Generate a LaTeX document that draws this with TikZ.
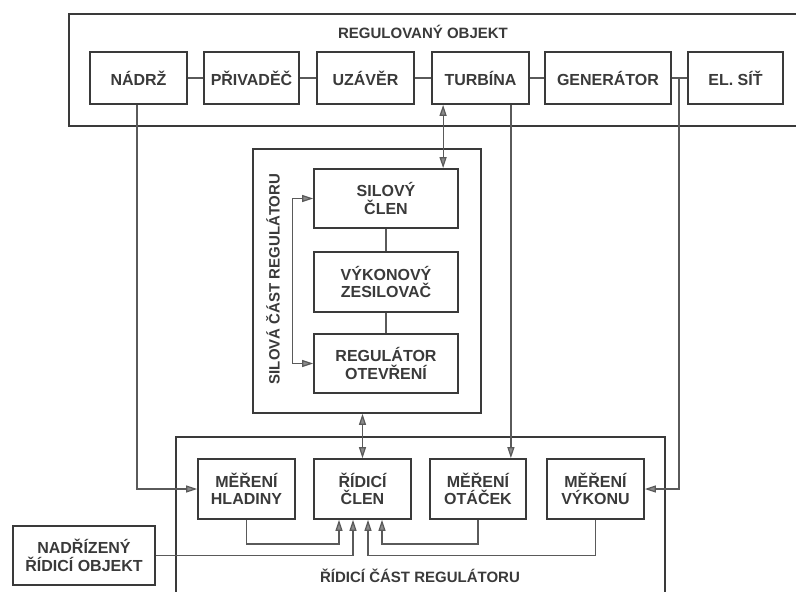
\documentclass[tikz,border=0pt]{standalone}
\usepackage{fontspec}
\setmainfont{Liberation Sans}
\usetikzlibrary{arrows.meta,calc}
\definecolor{ink}{HTML}{3A3A3A}
\definecolor{lin}{HTML}{5A5A5A}
\begin{document}
\begin{tikzpicture}[x=1pt,y=-1pt,
  every node/.style={text=ink, font=\fontsize{16}{17.5}\selectfont\bfseries, align=center, inner sep=0pt},
  outerbox/.style={draw=ink, line width=1.8pt},
  blk/.style={draw=ink, line width=1.8pt},
  con/.style={draw=lin, line width=1.2pt},
  tip/.style={},
  arr/.style={con, -{Triangle[length=11pt,width=7pt,fill=lin!70]}},
  darr/.style={con, {Triangle[length=11pt,width=7pt,fill=lin!70]}-{Triangle[length=11pt,width=7pt,fill=lin!70]}},
  lbl/.style={font=\fontsize{15}{17}\selectfont\bfseries}]
\useasboundingbox (0,0) rectangle (796,592);
\fill[white] (0,0) rectangle (796,592);

% outer frames
\node[outerbox, minimum width=741pt, minimum height=112pt] (regobj) at (439.5,70) {};
\node[outerbox, minimum width=228pt, minimum height=264pt] (silova) at (367,281) {};
\node[outerbox, minimum width=489pt, minimum height=173pt] (ridcast) at (420.5,523.5) {};

\node[lbl] (tRegObj) at (423,32) {REGULOVANÝ OBJEKT};
\node[lbl, rotate=90] (tSilova) at (273,279) {SILOVÁ ČÁST REGULÁTORU};
\node[lbl] (tRidcast) at (420,576) {ŘÍDICÍ ČÁST REGULÁTORU};

% top row
\node[blk, minimum width=97pt, minimum height=52pt] (nadrz) at (138.5,78) {NÁDRŽ};
\node[blk, minimum width=95pt, minimum height=52pt] (privadec) at (251.5,78) {PŘIVADĚČ};
\node[blk, minimum width=97pt, minimum height=52pt] (uzaver) at (365.5,78) {UZÁVĚR};
\node[blk, minimum width=97pt, minimum height=52pt] (turbina) at (480.5,78) {TURBÍNA};
\node[blk, minimum width=126pt, minimum height=52pt] (generator) at (608,78) {GENERÁTOR};
\node[blk, minimum width=95pt, minimum height=52pt] (elsit) at (735.5,78) {EL. SÍŤ};

% silova cast
\node[blk, minimum width=144pt, minimum height=59pt] (silovy) at (386,198.5) {SILOVÝ\\ČLEN};
\node[blk, minimum width=144pt, minimum height=60pt] (zesil) at (386,282) {VÝKONOVÝ\\ZESILOVAČ};
\node[blk, minimum width=144pt, minimum height=59pt] (regot) at (386,363.5) {REGULÁTOR\\OTEVŘENÍ};

% ridici cast
\node[blk, minimum width=97pt, minimum height=60pt] (hladiny) at (246.5,489) {MĚŘENÍ\\HLADINY};
\node[blk, minimum width=97pt, minimum height=60pt] (ridici) at (362.5,489) {ŘÍDICÍ\\ČLEN};
\node[blk, minimum width=96pt, minimum height=60pt] (otacek) at (478,489) {MĚŘENÍ\\OTÁČEK};
\node[blk, minimum width=97pt, minimum height=60pt] (vykonu) at (595.5,489) {MĚŘENÍ\\VÝKONU};
\node[blk, minimum width=142pt, minimum height=59pt] (nadrizeny) at (84,555.5) {NADŘÍZENÝ\\ŘÍDICÍ OBJEKT};

% top row chain
\draw[con] (nadrz.east) -- (privadec.west);
\draw[con] (privadec.east) -- (uzaver.west);
\draw[con] (uzaver.east) -- (turbina.west);
\draw[con] (turbina.east) -- (generator.west);
\draw[con] (generator.east) -- (elsit.west);
\coordinate (jgen) at ($(generator.east)!0.47!(elsit.west)$);

% silova chain
\draw[con] (silovy.south) -- (zesil.north);
\draw[con] (zesil.south) -- (regot.north);
\draw[darr] (silovy.west) -- ++(-21,0) |- (regot.west);

% vertical links
\draw[arr] ([xshift=-1.5pt]nadrz.south) |- (hladiny.west);
\draw[darr] ([xshift=12pt]turbina.south west) -- ([xshift=12pt]turbina.south west |- silovy.north);
\draw[arr] ([xshift=-19pt]turbina.south east) -- ([xshift=-19pt]turbina.south east |- otacek.north);
\draw[arr] (jgen) |- (vykonu.east);
\draw[darr] (silova.south -| ridici.north) -- (ridici.north);

% feedback into ridici clen
\draw[arr] (hladiny.south) -- ++(0,24) -| ([xshift=-23.5pt]ridici.south);
\draw[arr] (nadrizeny.east) -| ([xshift=-9.5pt]ridici.south);
\draw[arr] (vykonu.south) -- (vykonu.south |- nadrizeny.east) -| ([xshift=5.5pt]ridici.south);
\draw[arr] (otacek.south) -- ++(0,24) -| ([xshift=19.5pt]ridici.south);
\end{tikzpicture}
\end{document}
